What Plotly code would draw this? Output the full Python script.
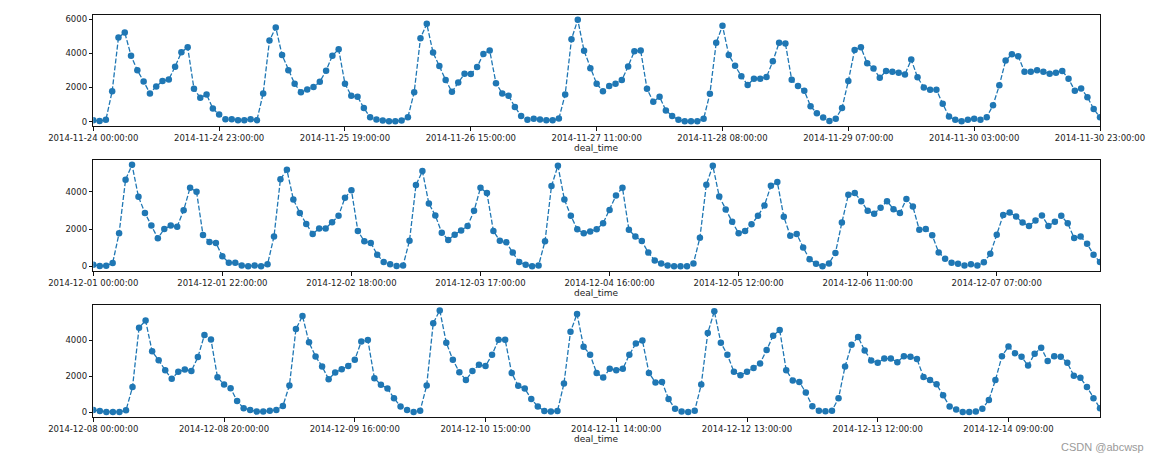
import pandas as pd
import plotly.graph_objects as go

# ---------------- data ----------------
week1_start = "2014-11-24"
week2_start = "2014-12-01"
week3_start = "2014-12-08"

# hours absent from the grouped data (no deals recorded)
week1_missing = ["2014-11-24 02", "2014-11-24 03", "2014-11-24 04", "2014-11-28 04",
                 "2014-11-29 01", "2014-11-29 02", "2014-11-29 03"]
week2_missing = ["2014-12-01 02", "2014-12-01 03",
                 "2014-12-03 02", "2014-12-03 03", "2014-12-03 04",
                 "2014-12-04 02", "2014-12-04 03", "2014-12-04 04",
                 "2014-12-06 02", "2014-12-06 03", "2014-12-06 04"]
week3_missing = ["2014-12-10 02", "2014-12-10 03", "2014-12-10 04",
                 "2014-12-11 02", "2014-12-11 03", "2014-12-11 04",
                 "2014-12-12 02", "2014-12-12 03", "2014-12-12 04",
                 "2014-12-13 02", "2014-12-13 03", "2014-12-13 04",
                 "2014-12-14 03"]

week1_values = [
    80, 30, 100, 1780, 4920, 5210, 3860, 3000, 2350, 1650,
    2060, 2370, 2470, 3210, 4060, 4350, 1920, 1390, 1590, 760,
    410, 140, 140, 80, 80, 140, 80, 1650, 4740, 5510,
    3900, 3000, 2210, 1720, 1880, 2020, 2330, 2980, 3860, 4230,
    2210, 1510, 1450, 800, 250, 120, 60, 20, 20, 60,
    250, 1720, 4880, 5720, 4040, 3250, 2430, 1740, 2290, 2800,
    2780, 3190, 3960, 4160, 2250, 1650, 1510, 860, 330, 100,
    160, 120, 80, 80, 180, 1590, 4820, 5960, 4140, 3120,
    2210, 1780, 2080, 2210, 2430, 3230, 4120, 4160, 1920, 1160,
    1450, 650, 330, 100, 20, 20, 20, 160, 1630, 4610,
    5610, 3900, 3270, 2650, 2140, 2510, 2510, 2610, 3530, 4610,
    4570, 2450, 2080, 1800, 900, 490, 240, 40, 170, 790,
    2370, 4190, 4350, 3410, 3100, 2570, 2960, 2920, 2860, 2760,
    3630, 2590, 2000, 1860, 1860, 1040, 290, 100, 20, 100,
    160, 100, 250, 960, 2120, 3570, 3940, 3820, 2920, 2920,
    3000, 2920, 2800, 2860, 2960, 2510, 1800, 1940, 1430, 740,
    250,
]
week2_values = [
    90, 20, 40, 180, 1780, 4650, 5450, 3730, 2870, 2190,
    1510, 2010, 2190, 2130, 3010, 4220, 4000, 1690, 1310, 1260,
    540, 200, 200, 50, 10, 50, 10, 110, 1600, 4680,
    5180, 3590, 2870, 2280, 1740, 2030, 2030, 2370, 2710, 3680,
    4090, 1900, 1350, 1260, 630, 230, 110, 20, 50, 1380,
    4360, 5110, 3370, 2730, 1810, 1420, 1700, 1920, 2170, 2980,
    4220, 3930, 1900, 1380, 1290, 740, 230, 90, 10, 50,
    1350, 4310, 5400, 3590, 2710, 1990, 1780, 1870, 1990, 2310,
    3030, 3800, 4220, 1960, 1600, 1360, 740, 320, 160, 50,
    10, 10, 10, 160, 1540, 4380, 5400, 3750, 3050, 2390,
    1780, 1900, 2260, 2710, 3270, 4320, 4520, 2660, 1650, 1740,
    1020, 380, 140, 10, 160, 720, 2350, 3840, 3930, 3500,
    2980, 2820, 3140, 3500, 3070, 2870, 3620, 3210, 1960, 2010,
    1670, 750, 410, 200, 140, 50, 110, 50, 220, 680,
    1700, 2760, 2890, 2670, 2350, 2170, 2460, 2730, 2170, 2400,
    2710, 2310, 1520, 1600, 1220, 630, 230,
]
week3_values = [
    130, 70, 20, 20, 20, 110, 1400, 4710, 5100, 3390,
    2900, 2340, 1860, 2250, 2380, 2290, 3070, 4300, 4050, 1950,
    1540, 1340, 630, 220, 130, 40, 40, 90, 130, 350,
    1490, 4630, 5360, 3890, 3110, 2550, 1840, 2210, 2400, 2570,
    2920, 3940, 4020, 1900, 1530, 1320, 780, 320, 130, 20,
    90, 1490, 4950, 5670, 3870, 2920, 2230, 1800, 2290, 2640,
    2570, 3200, 4040, 4040, 2190, 1470, 1320, 740, 320, 70,
    40, 70, 1600, 4480, 5470, 3650, 3200, 2190, 1930, 2420,
    2340, 2420, 3200, 3830, 4000, 2190, 1660, 1690, 740, 190,
    40, 20, 90, 1540, 4410, 5620, 3870, 3200, 2250, 2060,
    2250, 2470, 2720, 3460, 4260, 4580, 2340, 1770, 1690, 1100,
    330, 90, 60, 90, 780, 2550, 3760, 4190, 3440, 2880,
    2750, 2990, 2990, 2790, 3120, 3090, 2960, 1970, 1790, 1560,
    950, 320, 150, 20, 20, 40, 190, 690, 1790, 3120,
    3660, 3290, 3090, 2600, 3260, 3590, 2860, 3120, 3090, 2750,
    2030, 1920, 1410, 780, 220,
]

ytick_sets = [[0, 2000, 4000, 6000], [0, 2000, 4000], [0, 2000, 4000]]
x_title = "deal_time"


def make_times(start, missing):
    rng = pd.date_range(start, periods=168, freq="h")
    labels = [t.strftime("%Y-%m-%d %H:%M:%S") for t in rng]
    return [s for s in labels if s[:13] not in missing]


weeks = [
    (make_times(week1_start, week1_missing), week1_values),
    (make_times(week2_start, week2_missing), week2_values),
    (make_times(week3_start, week3_missing), week3_values),
]

# ---------------- layout geometry ----------------
W, H = 1162, 462
x_dom = [93.3 / W, 1100 / W]
panels_px = [(14.7, 126.3), (159.7, 271.3), (305.3, 417.0)]
title_px = [148.0, 293.0, 438.5]

blue = "#1f77b4"
font = dict(family="DejaVu Sans", size=8.5, color="#222222")

fig = go.Figure()
layout = dict(
    template="none",
    width=W, height=H,
    margin=dict(l=0, r=0, t=0, b=0, pad=0, autoexpand=False),
    paper_bgcolor="white", plot_bgcolor="white",
    showlegend=False, font=font,
    annotations=[],
)

for k, ((times, vals), yticks, (top, bot), tpx) in enumerate(
        zip(weeks, ytick_sets, panels_px, title_px)):
    sfx = "" if k == 0 else str(k + 1)
    fig.add_trace(go.Scatter(
        x=list(range(len(times))), y=vals, mode="lines+markers",
        line=dict(color=blue, width=1.3, dash="5px,2px"),
        marker=dict(size=6.5, color=blue),
        xaxis="x" + sfx, yaxis="y" + sfx,
        text=times, hovertemplate="%{text}<br>%{y}<extra></extra>",
    ))
    n = len(times)
    vmin, vmax = min(vals), max(vals)
    pad = 0.05 * (vmax - vmin)
    axis_common = dict(
        showline=True, mirror=True, linecolor="#111111", linewidth=1,
        ticks="outside", ticklen=3.5, tickwidth=1, tickcolor="#111111",
        showgrid=False, zeroline=False, tickfont=font, automargin=False,
    )
    tick_idx = list(range(0, n, 20))
    layout["xaxis" + sfx] = dict(
        domain=x_dom, anchor="y" + sfx, type="linear",
        range=[0, n - 1], tickmode="array",
        tickvals=tick_idx, ticktext=[times[i] for i in tick_idx],
        tickangle=0, **axis_common,
    )
    layout["yaxis" + sfx] = dict(
        domain=[1 - bot / H, 1 - top / H], anchor="x" + sfx,
        range=[vmin - pad, vmax + pad], tickmode="array",
        tickvals=yticks, ticktext=[str(v) for v in yticks], **axis_common,
    )
    layout["annotations"].append(dict(
        text=x_title, xref="paper", yref="paper",
        x=(x_dom[0] + x_dom[1]) / 2, y=1 - tpx / H,
        xanchor="center", yanchor="middle", showarrow=False,
        font=dict(family="DejaVu Sans", size=9, color="#222222"),
    ))

layout["annotations"].append(dict(
    text="CSDN @abcwsp", xref="paper", yref="paper",
    x=1146 / W, y=1 - 447 / H, xanchor="right", yanchor="middle",
    showarrow=False,
    font=dict(family="Liberation Sans", size=11, color="#9a9a9a"),
))

fig.update_layout(**layout)
fig.write_html("out.html")
